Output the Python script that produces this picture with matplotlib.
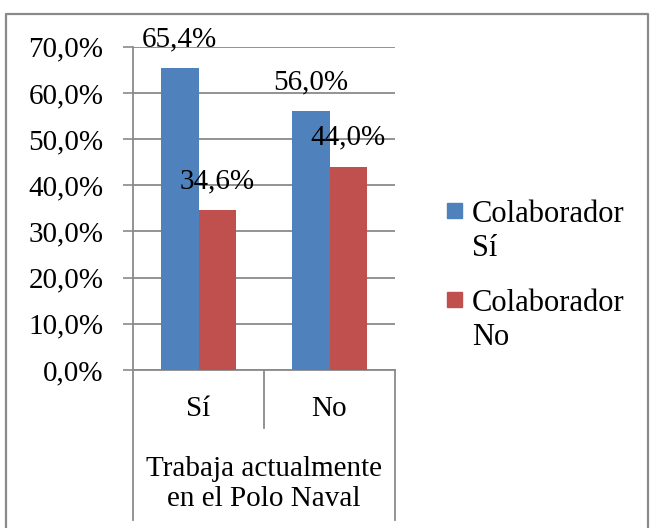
import matplotlib
matplotlib.use("Agg")
import matplotlib.pyplot as plt
from matplotlib.patches import Rectangle
from matplotlib.lines import Line2D
from matplotlib.ticker import FuncFormatter
import numpy as np

# data
categories = ["Sí", "No"]
series_names = ["Colaborador\nSí", "Colaborador\nNo"]
colab_si = [65.4, 56.0]
colab_no = [34.6, 44.0]
series_colors = ["#4F81BD", "#C0504D"]
axis_title = "Trabaja actualmente\nen el Polo Naval"
y_ticks = [0, 10, 20, 30, 40, 50, 60, 70]

plt.rcParams['font.family'] = ['Liberation Serif', 'DejaVu Serif']
GRAY = "#8A8A8A"
W, H = 652, 528

fig = plt.figure(figsize=(W / 100, H / 100), dpi=100)

# axes placed in pixel terms
x0, x1, ytop, ybot = 133, 395, 46.7, 370
ax = fig.add_axes([x0 / W, (H - ybot) / H, (x1 - x0) / W, (ybot - ytop) / H])


def py2ax(py):
    """pixel y (from top) -> axes fraction"""
    return ((H - py) / H - (H - ybot) / H) / ((ybot - ytop) / H)


x = np.arange(len(categories))
bw = 0.286
all_vals = [colab_si, colab_no]
for k, (vals, col) in enumerate(zip(all_vals, series_colors)):
    pos = x + (k - 0.5) * bw
    ax.bar(pos, vals, width=bw, color=col, zorder=3)
    for p, v in zip(pos, vals):
        ax.annotate(f"{v:.1f}%".replace(".", ","), xy=(p, v),
                    xytext=(0, 15.8), textcoords="offset points",
                    ha="center", va="baseline", fontsize=21, zorder=5)

ax.set_xlim(-0.5, len(categories) - 0.5)
ax.set_ylim(0, 70)
ax.set_yticks(y_ticks)
ax.yaxis.set_major_formatter(FuncFormatter(lambda v, _: f"{v:.1f}%".replace(".", ",")))
ax.tick_params(axis="y", length=7.2, width=1.2, color=GRAY, pad=14, labelsize=21)
ax.set_xticks([])
ax.yaxis.grid(True, color=GRAY, linewidth=1.3, zorder=0)
ax.set_axisbelow(True)
for s in ["top", "right"]:
    ax.spines[s].set_visible(False)
for s in ["left", "bottom"]:
    ax.spines[s].set_color(GRAY)
    ax.spines[s].set_linewidth(1.3)

# category axis box lines
tr = ax.get_xaxis_transform()
y_mid = py2ax(428)
y_low = py2ax(520)
for xe in [-0.5, len(categories) - 0.5]:
    ax.plot([xe, xe], [0, y_low], transform=tr, color=GRAY, lw=1.3, clip_on=False)
for xe in x[:-1] + 0.5:
    ax.plot([xe, xe], [0, y_mid], transform=tr, color=GRAY, lw=1.3, clip_on=False)

for xi, c in zip(x, categories):
    ax.text(xi, py2ax(409), c, transform=tr, ha="center", va="center", fontsize=21)
ax.text(np.mean(x), py2ax(484), axis_title, transform=tr, ha="center", va="center",
        fontsize=21, linespacing=1.15)

# legend drawn by hand
leg_y = [203, 292]
for yy, name, col in zip(leg_y, series_names, series_colors):
    fig.add_artist(Rectangle((447 / W, (H - yy - 15) / H), 15 / W, 15 / H,
                             transform=fig.transFigure, color=col))
    fig.text(472 / W, (H - yy + 3) / H, name, ha="left", va="top",
             fontsize=22, linespacing=1.22)

# outer chart border
fig.add_artist(Line2D([6 / W, 6 / W, 648 / W, 648 / W], [0, (H - 14) / H, (H - 14) / H, 0],
                      transform=fig.transFigure, color=GRAY, lw=1.6))

fig.savefig("out.png", dpi=100)
